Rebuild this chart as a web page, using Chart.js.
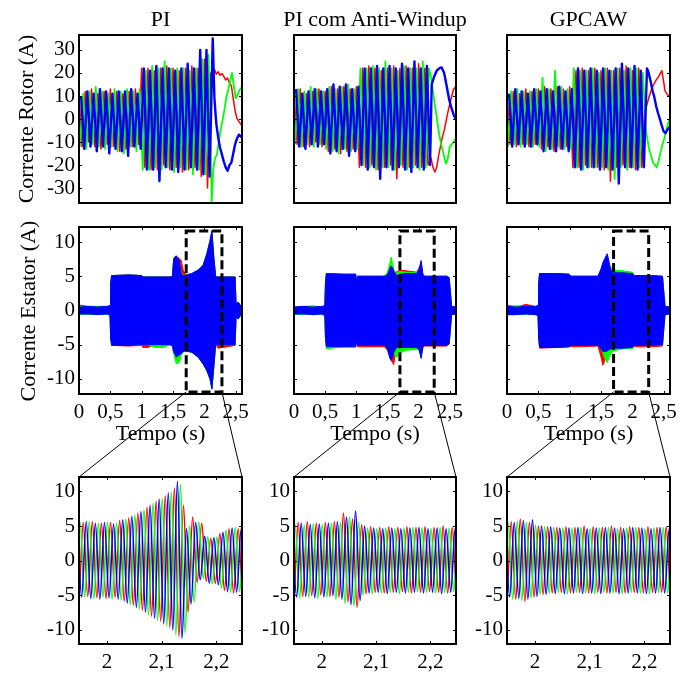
<!DOCTYPE html>
<html>
<head>
<meta charset="utf-8">
<script src="https://cdn.jsdelivr.net/npm/chart.js@4.4.1/dist/chart.umd.min.js"></script>
<style>
  html, body { margin: 0; padding: 0; background: #fff; }
  #page { position: relative; width: 692px; height: 673px; overflow: hidden; background: #fff;
          font-family: "Liberation Serif", "Times New Roman", serif; color: #000; }
  #page canvas { position: absolute; }
  .lbl { position: absolute; white-space: nowrap; font-size: 22px; line-height: 22px;
         transform: translate(-50%, -50%); }
</style>
</head>
<body>
<div id="page"></div>
<script>
// ---------------------------------------------------------------------------
// Axis ticks and titles
// ---------------------------------------------------------------------------
const titles = ['PI', 'PI com Anti-Windup', 'GPCAW'];
const timeTicks = [0, 0.5, 1, 1.5, 2, 2.5];
const timeTickLabels = ['0', '0,5', '1', '1,5', '2', '2,5'];
const zoomTicks = [2, 2.1, 2.2];
const zoomTickLabels = ['2', '2,1', '2,2'];
const rotorTicks = [-30, -20, -10, 0, 10, 20, 30];
const rotorTickLabels = ['-30', '-20', '-10', '0', '10', '20', '30'];
const statorTicks = [-10, -5, 0, 5, 10];
const statorTickLabels = ['-10', '-5', '0', '5', '10'];

// ---------------------------------------------------------------------------
// Rotor current (A): successive extremes of each phase, one every rotorStep s,
// followed by the slow part after the fast oscillation ends
// ---------------------------------------------------------------------------
const rotorStep = 0.05;
const rotorPhaseStart = [0, 0.0167, 0.0333];   // red, green, blue

const piRotorRed = [11,-12,12,-10,13,-12,11,-13,12,-11, 13,-12,12,-14,11,-13,12,-12,13,-11,
  22,-21,22,-22,21,-22,22,-20,23,-22, 22,-21,21,-23,22,-22,23,-21,22,-25, 26,-30,20];
const piRotorGreen = [-12,11,-13,12,-11,14,-12,12,-13,11, -12,13,-14,12,-15,13,-12,12,-14,13,
  -22,21,-22,23,-21,22,-22,25,-21,22, -23,22,-21,22,-22,21,-24,22,-22,26, -24,28,-36];
const piRotorBlue = [10,-13,12,-12,11,-14,13,-12,12,-15, 11,-13,12,-14,12,-16,13,-12,11,-13,
  22,-22,21,-22,23,-27,22,-21,22,-22, 21,-23,22,-22,24,-21,22,-22,30,-24, 30,-25,35];
const piTailRedT = [2.13,2.16,2.19,2.22,2.25,2.28,2.31,2.34,2.37,2.40,2.43,2.46,2.49,2.52,2.55,2.58,2.60];
const piTailRedV = [20,21.5,19.5,20.5,19,19.8,18.5,17,17.8,15.5,14.5,9,3.5,0.2,-1,-2.2,-3];
const piTailGreenT = [2.14,2.17,2.20,2.23,2.26,2.29,2.32,2.35,2.38,2.41,2.44,2.47,2.50,2.53,2.56,2.60];
const piTailGreenV = [-22,-17,-15.5,-10,-4.5,-0.5,4,9.5,12.5,16.5,20,14.5,9,10.5,12.5,14];
const piTailBlueT = [2.16,2.19,2.22,2.25,2.28,2.31,2.34,2.37,2.40,2.43,2.46,2.49,2.52,2.55,2.58,2.60];
const piTailBlueV = [9,-2,-8,-12.5,-15.5,-18.5,-21,-22.5,-20,-19,-15,-11,-8.5,-6.8,-7.5,-8.2];

const awRotorRed = [12,-11,13,-12,11,-12,12,-10,13,-12, 12,-14,14,-13,13,-15,14,-14,13,-13,
  14,-21,22,-21,23,-20,22,-22,21,-21, 22,-20,23,-26,22,-21,23,-21,22,-20, 24,-21,22,-20];
const awRotorGreen = [-11,13,-12,12,-11,14,-12,13,-11,12, -13,14,-14,13,-15,14,-13,15,-14,13,
  -13,22,-20,22,-21,23,-22,22,-21,25, -21,22,-22,21,-20,23,-22,22,-21,22, -22,25,-21,22];
const awRotorBlue = [13,-12,11,-13,12,-11,13,-12,12,-11, 13,-15,15,-14,14,-13,15,-16,13,-14,
  14,-20,22,-22,22,-21,23,-26,22,-21, 23,-22,22,-21,24,-22,22,-23,25,-21, 22,-22,23,-20];
const awTailRedT = [2.20,2.23,2.26,2.29,2.32,2.35,2.38,2.41,2.44,2.47,2.50,2.53,2.56,2.60];
const awTailRedV = [-17,-21,-23,-21,-16,-12,-8,-5,-1,3,6.5,9.8,12.8,14.3];
const awTailGreenT = [2.20,2.23,2.26,2.29,2.32,2.35,2.38,2.41,2.44,2.47,2.50,2.53,2.56,2.60];
const awTailGreenV = [18,12,6,1,-5,-9.5,-13,-16.5,-19.4,-17,-12,-11,-10,-8.4];
const awTailBlueT = [2.21,2.25,2.29,2.33,2.37,2.41,2.45,2.49,2.52,2.56,2.60];
const awTailBlueV = [15,18.5,21,22,22.4,20,14.3,8.5,5.5,2,-0.3];

const gpRotorRed = [12,-11,12,-12,11,-11,13,-12,12,-11, 13,-13,14,-12,13,-14,14,-13,13,-12,
  14,-21,21,-21,22,-20,21,-21,22,-21, 21,-22,22,-27,21,-21,22,-20,23,-21, 21,-22,22,-21,3];
const gpRotorGreen = [-12,12,-11,13,-12,12,-11,12,-12,13, -12,18,-14,13,-13,21,-12,14,-13,13,
  -13,22,-21,21,-22,21,-21,22,-21,20, -21,22,-22,21,-26,22,-21,21,-22,22, -21,22,-21,20,-5];
const gpRotorBlue = [11,-12,13,-11,12,-12,11,-12,13,-11, 12,-14,13,-13,12,-14,14,-13,12,-14,
  13,-21,22,-22,21,-21,22,-21,21,-22, 22,-21,21,-22,22,-28,24,-21,22,-21, 23,-22,21,-21,22];
const gpTailRedT = [2.24,2.27,2.30,2.33,2.36,2.39,2.42,2.45,2.47,2.50,2.52,2.55,2.58,2.60];
const gpTailRedV = [7,10,12.5,14.5,16,17.4,18.5,20,21,16,12.2,11,10,10.5];
const gpTailGreenT = [2.24,2.27,2.30,2.33,2.36,2.39,2.42,2.45,2.48,2.51,2.54,2.57,2.60];
const gpTailGreenV = [-9,-13.5,-16,-19,-20,-21,-18,-14.5,-11,-8.5,-5,-2,0.5];
const gpTailBlueT = [2.26,2.29,2.32,2.35,2.38,2.41,2.44,2.47,2.50,2.53,2.56,2.60];
const gpTailBlueV = [20,16.5,12.5,9.5,5.5,2.5,-0.2,-3,-5.5,-6.1,-4.6,-3.2];

// ---------------------------------------------------------------------------
// Stator current (A): upper / lower envelope of each phase
// ---------------------------------------------------------------------------
const piStatorT = [0,0.15,0.3,0.45,0.495, 0.505,0.52,0.8,1.0,1.02, 1.1,1.2,1.35,1.45,1.49,
  1.51,1.55,1.6,1.63,1.66, 1.7,1.8,1.9,1.98,2.04, 2.09,2.12,2.15,2.18,2.22, 2.3,2.49,2.505,2.54,2.6];
const piStatorBlueHi = [0.5,0.6,0.5,0.6,0.7, 4.0,5.1,5.2,5.1,4.9, 4.9,4.9,4.9,4.9,5.0,
  7.6,8.0,7.3,5.4,5.1, 5.1,5.4,5.9,6.6,8.3, 10.2,11.7,7.8,4.9,4.9, 4.9,4.9,1.0,1.2,0.4];
const piStatorBlueLo = [-0.5,-0.5,-0.6,-0.5,-0.7, -4.0,-5.1,-5.1,-5.0,-5.0, -5.0,-5.0,-5.0,-5.0,-5.1,
  -6.0,-6.8,-6.5,-6.3,-6.0, -5.9,-6.1,-6.8,-7.8,-8.8, -10.0,-11.5,-8.3,-4.9,-5.0, -5.0,-5.0,-1.0,-1.2,-0.4];
const piStatorRedHi = [0.8,0.6,0.6,0.6,0.7, 4.0,5.1,5.2,5.1,4.9, 4.9,4.9,4.9,4.9,5.0,
  7.4,7.9,7.6,7.3,6.0, 5.2,5.4,5.9,6.6,8.3, 10.2,11.5,7.8,5.0,4.9, 4.9,4.9,1.0,1.2,0.4];
const piStatorRedLo = [-0.6,-0.5,-0.6,-0.5,-0.7, -4.0,-5.1,-5.2,-5.1,-5.4, -5.4,-5.0,-5.0,-5.0,-5.2,
  -6.3,-6.6,-6.4,-6.3,-6.0, -5.9,-6.1,-6.8,-7.8,-8.8, -10.0,-11.3,-8.3,-5.0,-5.5, -5.4,-5.1,-1.0,-1.2,-0.4];
const piStatorGreenHi = [0.6,0.6,0.6,0.6,0.7, 4.0,5.1,5.2,5.1,4.9, 4.9,4.9,4.9,4.9,5.0,
  7.4,7.8,7.2,5.6,5.2, 5.1,5.4,5.9,6.6,8.3, 10.2,11.6,7.8,4.9,4.9, 4.9,4.9,1.0,1.2,0.4];
const piStatorGreenLo = [-0.6,-0.6,-0.5,-0.6,-0.7, -4.0,-5.1,-5.1,-5.0,-5.0, -5.0,-5.4,-5.4,-5.0,-5.1,
  -6.2,-7.8,-7.6,-6.5,-6.1, -5.9,-6.1,-6.8,-7.8,-8.8, -10.0,-11.4,-8.3,-4.9,-5.0, -5.0,-5.0,-1.0,-1.2,-0.4];

const awStatorT = [0,0.15,0.3,0.45,0.495, 0.505,0.52,0.8,0.99,1.0, 1.02,1.2,1.45,1.5,1.54,
  1.56,1.58,1.6,1.63,1.66, 1.7,1.8,1.97,2.01,2.04, 2.07,2.1,2.3,2.45,2.49, 2.53,2.6];
const awStatorBlueHi = [0.5,0.6,0.5,0.6,0.7, 4.0,5.4,5.3,5.3,4.3, 5.0,5.0,5.0,5.2,6.2,
  6.5,6.3,5.8,5.3,5.1, 5.3,5.4,5.4,6.0,7.3, 5.2,5.0,5.0,5.0,4.8, 0.6,0.5];
const awStatorBlueLo = [-0.5,-0.5,-0.6,-0.5,-0.7, -4.0,-5.3,-5.3,-5.3,-4.6, -5.1,-5.1,-5.1,-5.6,-7.0,
  -7.3,-6.8,-6.2,-5.6,-5.4, -5.4,-5.4,-5.4,-5.8,-7.0, -5.3,-5.1,-5.1,-5.1,-4.9, -0.6,-0.5];
const awStatorRedHi = [0.6,0.5,0.6,0.5,0.7, 4.0,5.4,5.3,5.3,4.3, 5.0,5.0,5.0,5.2,6.0,
  6.2,6.0,5.6,5.6,5.7, 5.9,5.8,5.6,6.3,7.0, 5.2,5.0,5.0,5.0,4.8, 0.6,0.5];
const awStatorRedLo = [-0.6,-0.5,-0.6,-0.6,-0.7, -4.0,-5.3,-5.3,-5.3,-4.6, -5.3,-5.3,-5.3,-5.8,-6.8,
  -7.3,-7.6,-7.9,-6.0,-5.4, -5.4,-5.4,-5.4,-5.8,-6.5, -5.3,-5.2,-5.2,-5.2,-4.9, -0.6,-0.5];
const awStatorGreenHi = [0.5,0.6,0.7,0.5,0.7, 4.0,5.4,5.3,5.3,4.3, 5.0,5.0,5.0,5.6,7.0,
  7.8,7.0,6.0,5.4,5.6, 5.7,5.6,5.5,6.0,6.8, 5.2,5.0,5.0,5.0,4.8, 0.6,0.5];
const awStatorGreenLo = [-0.5,-0.6,-0.5,-0.6,-0.7, -4.0,-5.6,-5.3,-5.3,-4.6, -5.1,-5.1,-5.1,-5.6,-6.5,
  -6.8,-6.4,-6.0,-6.8,-6.8, -6.2,-5.8,-5.7,-5.8,-6.8, -5.3,-5.1,-5.1,-5.1,-4.9, -0.6,-0.5];

const gpStatorT = [0,0.15,0.3,0.45,0.495, 0.505,0.52,0.8,0.99,1.02, 1.2,1.45,1.5,1.53,1.56,
  1.6,1.63,1.66,1.7,1.85, 2.0,2.03,2.3,2.48,2.52, 2.6];
const gpStatorBlueHi = [0.6,0.5,0.6,0.6,0.7, 4.0,5.4,5.4,5.3,5.0, 5.0,5.0,6.1,7.0,7.6,
  8.3,7.0,5.8,5.5,5.5, 5.4,5.1,5.1,5.0,0.6, 0.5];
const gpStatorBlueLo = [-0.6,-0.6,-0.5,-0.6,-0.7, -4.0,-5.4,-5.4,-5.3,-5.1, -5.1,-5.1,-5.6,-6.0,-6.0,
  -5.9,-5.7,-5.6,-5.5,-5.5, -5.4,-5.1,-5.1,-5.0,-0.6, -0.5];
const gpStatorRedHi = [0.8,0.5,0.9,0.6,0.7, 4.0,5.4,5.4,5.3,5.0, 5.0,5.0,5.6,6.0,6.0,
  5.9,5.8,5.8,5.8,5.7, 5.5,5.1,5.1,5.0,0.6, 0.5];
const gpStatorRedLo = [-0.6,-0.6,-0.5,-0.6,-0.7, -4.0,-5.5,-5.4,-5.3,-5.3, -5.3,-5.2,-6.8,-8.0,-7.3,
  -6.0,-5.7,-5.6,-5.5,-5.5, -5.4,-5.3,-5.3,-5.2,-0.6, -0.5];
const gpStatorGreenHi = [0.6,0.7,0.6,0.6,0.7, 4.0,5.4,5.4,5.3,5.0, 5.0,5.0,5.6,6.0,6.3,
  6.5,6.5,6.3,5.9,5.8, 5.6,5.1,5.1,5.0,0.6, 0.5];
const gpStatorGreenLo = [-0.6,-0.6,-0.6,-0.6,-0.7, -4.0,-5.4,-5.4,-5.3,-5.1, -5.1,-5.1,-5.6,-6.2,-7.0,
  -7.6,-6.8,-6.3,-5.9,-5.6, -5.6,-5.1,-5.1,-5.0,-0.6, -0.5];

// Detail window marked on the stator plots (s, A)
const detailStart = [1.71, 1.70, 1.70];
const detailEnd = [2.28, 2.25, 2.26];
const detailTop = 11.6;
const detailBottom = -11.9;

// ---------------------------------------------------------------------------
// Stator current detail (A): successive peaks / troughs of each phase (60 Hz)
// ---------------------------------------------------------------------------
const zoomT0 = 1.94;
const halfPeriod = 1 / 120;
const zoomPhaseStart = [0, 1 / 360, 2 / 360];  // red, green, blue

const piZoomRed = [5.3,-5.6,5.5,-5.2,5.6,-5.4,5.4,-5.5,5.5,-5.3, 5.8,-5.9,6.2,-6.5,6.9,-7.2,7.7,-8.1,8.6,-8.8,
  9.4,-9.7,10.5,-11.0,8.0,-7.5,6.3,-3.2,5.4,-3.0, 3.2,-3.3,3.9,-4.3,4.6,-4.7,4.6,-4.6,4.7];
const piZoomGreen = [-5.4,5.5,-5.3,5.6,-5.5,5.4,-5.3,5.5,-5.6,5.4, -5.7,6.0,-6.4,6.6,-7.0,7.4,-7.9,8.3,-8.7,9.0,
  -9.5,9.9,-10.8,11.0,-10.5,5.0,-6.0,5.6,-2.6,3.4, -3.4,3.4,-4.0,4.4,-4.6,4.8,-4.5,4.7,-4.6];
const piZoomBlue = [5.8,-5.3,5.6,-5.5,5.4,-5.6,5.5,-5.4,5.3,-5.6, 5.9,-6.2,6.4,-6.8,7.1,-7.5,8.0,-8.4,8.9,-9.2,
  9.8,-10.1,11.5,-11.3,4.6,-6.3,5.5,-2.8,3.5,-3.3, 3.3,-3.5,4.1,-4.5,4.7,-4.6,4.6,-4.7,4.6];

const awZoomRed = [5.3,-5.0,5.5,-5.2,5.6,-5.1,5.4,-5.0,5.5,-5.2, 5.6,-5.3,6.9,-6.0,6.0,-6.8,5.2,-4.8,4.9,-4.6,
  4.8,-4.7,4.9,-4.6,4.8,-4.5,4.9,-4.7,4.8,-4.6, 4.9,-4.5,4.8,-4.6,5.0,-4.7,4.8,-4.6,4.9];
const awZoomGreen = [-5.2,5.2,-5.4,5.1,-5.3,5.3,-5.5,5.2,-5.3,5.4, -5.6,5.5,-6.2,6.3,-6.6,5.5,-5.0,4.7,-4.8,4.6,
  -4.7,4.7,-4.6,4.6,-4.8,4.7,-4.6,4.8,-4.5,4.7, -4.6,4.6,-4.7,4.8,-4.6,4.7,-4.5,4.6,-4.7];
const awZoomBlue = [5.1,-5.3,5.4,-5.2,5.2,-5.4,5.3,-5.3,5.4,-5.1, 5.6,-5.6,6.3,-6.4,7.2,-5.8,5.0,-4.7,4.7,-4.6,
  4.6,-4.8,4.7,-4.6,4.6,-4.7,4.7,-4.6,4.8,-4.7, 4.6,-4.6,4.7,-4.8,4.6,-4.6,4.7,-4.6,4.6];

const gpZoomRed = [5.2,-5.4,5.6,-5.6,6.0,-5.9,5.5,-5.3,5.0,-4.9, 4.9,-4.7,4.8,-4.6,4.9,-4.7,4.8,-4.6,5.0,-4.7,
  4.9,-4.6,4.8,-4.7,5.0,-4.6,4.8,-4.7,4.9,-4.6, 4.8,-4.7,4.9,-4.6,4.8,-4.6,4.9,-4.7,4.8];
const gpZoomGreen = [-5.4,5.5,-5.6,5.7,-5.8,5.5,-5.4,5.1,-4.9,4.9, -4.7,4.8,-4.6,4.7,-4.8,4.7,-4.6,4.8,-4.7,4.6,
  -4.8,4.7,-4.6,4.8,-4.7,4.6,-4.8,4.7,-4.6,4.8, -4.7,4.6,-4.8,4.7,-4.6,4.8,-4.7,4.6,-4.8];
const gpZoomBlue = [5.4,-5.3,5.5,-5.5,5.8,-5.6,5.9,-5.2,5.0,-4.9, 4.9,-4.8,4.7,-4.8,4.7,-4.7,4.8,-4.8,4.6,-4.7,
  4.7,-4.8,4.8,-4.7,4.7,-4.8,4.6,-4.7,4.8,-4.7, 4.7,-4.8,4.6,-4.7,4.8,-4.7,4.6,-4.8,4.7];

// ---------------------------------------------------------------------------
// Layout and drawing
// ---------------------------------------------------------------------------
const FONT = "'Liberation Serif', 'Times New Roman', serif";
const RED = '#ff0000', GREEN = '#00ff00', BLUE = '#0000ff';
const PLOT_X = [[79, 242], [294, 456], [507, 670]];
const PLOT_Y = [[35, 203], [227, 394], [477, 644]];
const page = document.getElementById('page');

function series(values, start, step, tailT, tailV) {
  const pts = values.map((v, i) => ({ x: start + i * step, y: v }));
  if (tailT) tailT.forEach((t, i) => pts.push({ x: t, y: tailV[i] }));
  return pts;
}
function envelope(times, values) {
  return times.map((t, i) => ({ x: t, y: values[i] }));
}

function framePlugin(spec) {
  return {
    id: 'frame',
    afterDatasetsDraw(chart) {
      const { ctx, chartArea: a } = chart;
      const xs = chart.scales.x, ys = chart.scales.y;
      ctx.save();
      ctx.strokeStyle = '#000';
      ctx.lineWidth = 1;
      ctx.beginPath();
      if (spec.xMarks) {
        spec.xTicks.forEach(v => {
          const p = Math.round(xs.getPixelForValue(v)) + 0.5;
          ctx.moveTo(p, a.top); ctx.lineTo(p, a.top + 3);
          ctx.moveTo(p, a.bottom); ctx.lineTo(p, a.bottom - 3);
        });
      }
      spec.yTicks.forEach(v => {
        const p = Math.round(ys.getPixelForValue(v)) + 0.5;
        ctx.moveTo(a.left, p); ctx.lineTo(a.left + 3, p);
        ctx.moveTo(a.right, p); ctx.lineTo(a.right - 3, p);
      });
      ctx.stroke();
      ctx.lineWidth = 2;
      ctx.strokeRect(a.left, a.top, a.right - a.left, a.bottom - a.top);
      ctx.restore();
    }
  };
}

function detailBoxPlugin(col) {
  return {
    id: 'detailBox',
    afterDraw(chart) {
      const { ctx } = chart;
      const xs = chart.scales.x, ys = chart.scales.y;
      const x1 = xs.getPixelForValue(detailStart[col]), x2 = xs.getPixelForValue(detailEnd[col]);
      const y1 = ys.getPixelForValue(detailTop), y2 = ys.getPixelForValue(detailBottom);
      ctx.save();
      ctx.strokeStyle = '#000';
      ctx.lineWidth = 3;
      ctx.setLineDash([9, 4]);
      ctx.strokeRect(x1, y1, x2 - x1, y2 - y1);
      ctx.restore();
    }
  };
}

function noPadding(a) {
  a.paddingLeft = 0; a.paddingRight = 0; a.paddingTop = 0; a.paddingBottom = 0;
}

function makeChart(col, row, datasets, spec, extra) {
  const [l, r] = PLOT_X[col], [t, b] = PLOT_Y[row];
  const L = 60, R = 8, T = 8, B = spec.xLabels ? 36 : 8;
  const w = r - l + L + R, h = b - t + T + B;
  const cv = document.createElement('canvas');
  cv.width = w; cv.height = h;
  cv.style.left = (l - L) + 'px'; cv.style.top = (t - T) + 'px';
  cv.style.width = w + 'px'; cv.style.height = h + 'px';
  page.appendChild(cv);
  const tickFont = { family: FONT, size: 21 };
  return new Chart(cv.getContext('2d'), {
    type: 'line',
    data: { datasets },
    options: {
      responsive: false, animation: false, devicePixelRatio: 1, events: [],
      layout: { padding: { left: 0, right: R, top: T, bottom: 0 }, autoPadding: false },
      plugins: { legend: { display: false }, tooltip: { enabled: false } },
      elements: { point: { radius: 0 }, line: { borderJoinStyle: 'round' } },
      scales: {
        x: {
          type: 'linear', min: spec.xMin, max: spec.xMax,
          afterBuildTicks: a => { a.ticks = spec.xTicks.map(v => ({ value: v })); },
          afterFit: a => { a.height = B; noPadding(a); },
          grid: { display: false, drawTicks: false }, border: { display: false },
          ticks: { display: spec.xLabels, autoSkip: false, maxRotation: 0, minRotation: 0,
                   padding: 6, color: '#000', font: tickFont,
                   callback: (v, i) => spec.xTickLabels[i] }
        },
        y: {
          type: 'linear', min: spec.yMin, max: spec.yMax,
          afterBuildTicks: a => { a.ticks = spec.yTicks.map(v => ({ value: v })); },
          afterFit: a => { a.width = L; noPadding(a); },
          grid: { display: false, drawTicks: false }, border: { display: false },
          ticks: { display: spec.yLabels, autoSkip: false, padding: 4, color: '#000', font: tickFont,
                   callback: (v, i) => spec.yTickLabels[i] }
        }
      }
    },
    plugins: [framePlugin(spec)].concat(extra || [])
  });
}

// widths: [red, green, blue]
function phaseLines(red, green, blue, widths, smooth) {
  const base = { pointRadius: 0, fill: false, tension: 0 };
  if (smooth) base.cubicInterpolationMode = 'monotone';
  return [
    Object.assign({ data: blue, borderColor: BLUE, borderWidth: widths[2], order: 0 }, base),
    Object.assign({ data: green, borderColor: GREEN, borderWidth: widths[1], order: 1 }, base),
    Object.assign({ data: red, borderColor: RED, borderWidth: widths[0], order: 2 }, base)
  ];
}

function phaseBands(t, rHi, rLo, gHi, gLo, bHi, bLo) {
  const mk = (hi, lo, color, order) => [
    { data: envelope(t, hi), borderColor: color, backgroundColor: color, borderWidth: 1,
      pointRadius: 0, fill: false, order },
    { data: envelope(t, lo), borderColor: color, backgroundColor: color, borderWidth: 1,
      pointRadius: 0, fill: '-1', order }
  ];
  return [].concat(mk(bHi, bLo, BLUE, 0), mk(gHi, gLo, GREEN, 1), mk(rHi, rLo, RED, 2));
}

const rotorSpec = { xMin: 0, xMax: 2.6, xTicks: timeTicks, xTickLabels: timeTickLabels, xLabels: false, xMarks: false,
  yMin: -36.5, yMax: 36.5, yTicks: rotorTicks, yTickLabels: rotorTickLabels };
const statorSpec = { xMin: 0, xMax: 2.6, xTicks: timeTicks, xTickLabels: timeTickLabels, xLabels: true, xMarks: true,
  yMin: -12.2, yMax: 12.2, yTicks: statorTicks, yTickLabels: statorTickLabels };
const zoomSpec = { xMin: 1.949, xMax: 2.247, xTicks: zoomTicks, xTickLabels: zoomTickLabels, xLabels: true, xMarks: true,
  yMin: -12.1, yMax: 12.1, yTicks: statorTicks, yTickLabels: statorTickLabels, yLabels: true };

const rotorData = [
  [piRotorRed, piRotorGreen, piRotorBlue, piTailRedT, piTailRedV, piTailGreenT, piTailGreenV, piTailBlueT, piTailBlueV],
  [awRotorRed, awRotorGreen, awRotorBlue, awTailRedT, awTailRedV, awTailGreenT, awTailGreenV, awTailBlueT, awTailBlueV],
  [gpRotorRed, gpRotorGreen, gpRotorBlue, gpTailRedT, gpTailRedV, gpTailGreenT, gpTailGreenV, gpTailBlueT, gpTailBlueV]
];
const statorData = [
  [piStatorT, piStatorRedHi, piStatorRedLo, piStatorGreenHi, piStatorGreenLo, piStatorBlueHi, piStatorBlueLo],
  [awStatorT, awStatorRedHi, awStatorRedLo, awStatorGreenHi, awStatorGreenLo, awStatorBlueHi, awStatorBlueLo],
  [gpStatorT, gpStatorRedHi, gpStatorRedLo, gpStatorGreenHi, gpStatorGreenLo, gpStatorBlueHi, gpStatorBlueLo]
];
const zoomData = [
  [piZoomRed, piZoomGreen, piZoomBlue],
  [awZoomRed, awZoomGreen, awZoomBlue],
  [gpZoomRed, gpZoomGreen, gpZoomBlue]
];

const statorCharts = [], zoomCharts = [];
for (let c = 0; c < 3; c++) {
  const rd = rotorData[c];
  makeChart(c, 0, phaseLines(
    series(rd[0], rotorPhaseStart[0], rotorStep, rd[3], rd[4]),
    series(rd[1], rotorPhaseStart[1], rotorStep, rd[5], rd[6]),
    series(rd[2], rotorPhaseStart[2], rotorStep, rd[7], rd[8]), [1.5, 1.8, 2.4], false),
    Object.assign({}, rotorSpec, { yLabels: c === 0 }));

  const sd = statorData[c];
  statorCharts.push(makeChart(c, 1, phaseBands(sd[0], sd[1], sd[2], sd[3], sd[4], sd[5], sd[6]),
    Object.assign({}, statorSpec, { yLabels: c === 0 }), [detailBoxPlugin(c)]));

  const zd = zoomData[c];
  zoomCharts.push(makeChart(c, 2, phaseLines(
    series(zd[0], zoomT0 + zoomPhaseStart[0], halfPeriod),
    series(zd[1], zoomT0 + zoomPhaseStart[1], halfPeriod),
    series(zd[2], zoomT0 + zoomPhaseStart[2], halfPeriod), [1.5, 1.5, 1.5], true), zoomSpec));
}

// Lines tying each marked window to its detail plot
const overlay = document.createElement('canvas');
overlay.width = 692; overlay.height = 673;
overlay.style.left = '0px'; overlay.style.top = '0px';
page.appendChild(overlay);
const octx = overlay.getContext('2d');
octx.strokeStyle = '#000';
octx.lineWidth = 1;
for (let c = 0; c < 3; c++) {
  const m = statorCharts[c], z = zoomCharts[c];
  const mx = m.canvas.offsetLeft, my = m.canvas.offsetTop;
  const bx1 = mx + m.scales.x.getPixelForValue(detailStart[c]);
  const bx2 = mx + m.scales.x.getPixelForValue(detailEnd[c]);
  const by = my + m.scales.y.getPixelForValue(detailBottom);
  const zl = z.canvas.offsetLeft + z.chartArea.left, zr = z.canvas.offsetLeft + z.chartArea.right;
  const zt = z.canvas.offsetTop + z.chartArea.top;
  octx.beginPath();
  octx.moveTo(bx1, by); octx.lineTo(zl, zt);
  octx.moveTo(bx2, by); octx.lineTo(zr, zt);
  octx.stroke();
}

// Titles and axis labels
function addText(txt, x, y, vertical) {
  const d = document.createElement('div');
  d.className = 'lbl';
  d.textContent = txt;
  d.style.left = x + 'px';
  d.style.top = y + 'px';
  if (vertical) d.style.transform = 'translate(-50%, -50%) rotate(-90deg)';
  page.appendChild(d);
}
for (let c = 0; c < 3; c++) {
  const cx = (PLOT_X[c][0] + PLOT_X[c][1]) / 2;
  addText(titles[c], cx, 19);
  addText('Tempo (s)', cx, 433);
}
addText('Corrente Rotor (A)', 26, 119, true);
addText('Corrente Estator (A)', 27.5, 310.5, true);
</script>
</body>
</html>
